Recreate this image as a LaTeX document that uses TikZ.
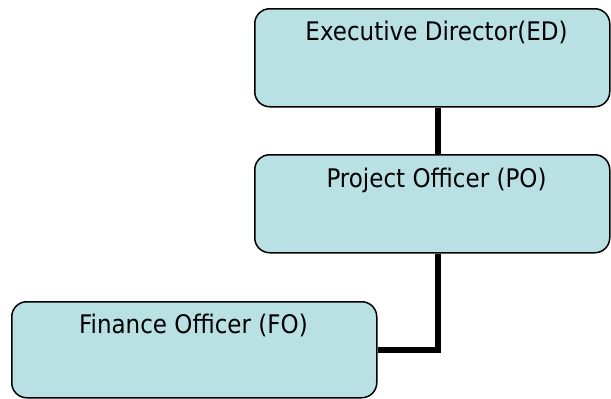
\documentclass[tikz,border=0pt]{standalone}
\usepackage{fontspec}
\newfontfamily\orgfont{DejaVu Sans Condensed}
\definecolor{boxfill}{RGB}{185,224,227}
\begin{document}
\begin{tikzpicture}[x=1pt,y=-1pt,
  orgbox/.style={draw=black, line width=1.5pt, fill=boxfill, rounded corners=15pt,
    inner sep=0pt, anchor=north west},
  orglabel/.style={anchor=base, inner sep=0pt, font=\orgfont\fontsize{25.6}{30}\selectfont},
  conn/.style={draw=black, line width=6pt}]
  \useasboundingbox (0,0) rectangle (611,399);
  % boxes
  \node[orgbox, minimum width=355pt, minimum height=98pt] (ED) at (254,8) {};
  \node[orgbox, minimum width=355pt, minimum height=98pt] (PO) at (254,154) {};
  \node[orgbox, minimum width=365pt, minimum height=96pt] (FO) at (11,301) {};
  % titles
  \node[orglabel] (EDt) at (436.5,40) {Executive Director(ED)};
  \node[orglabel] (POt) at (436.5,187) {Project Officer (PO)};
  \node[orglabel] (FOt) at (193.5,333) {Finance Officer (FO)};
  % reporting lines
  \coordinate (trunk) at (438,0);
  \draw[conn] (ED.south -| trunk) -- (PO.north -| trunk);
  \draw[conn] (PO.south -| trunk) |- (FO.east);
\end{tikzpicture}
\end{document}
